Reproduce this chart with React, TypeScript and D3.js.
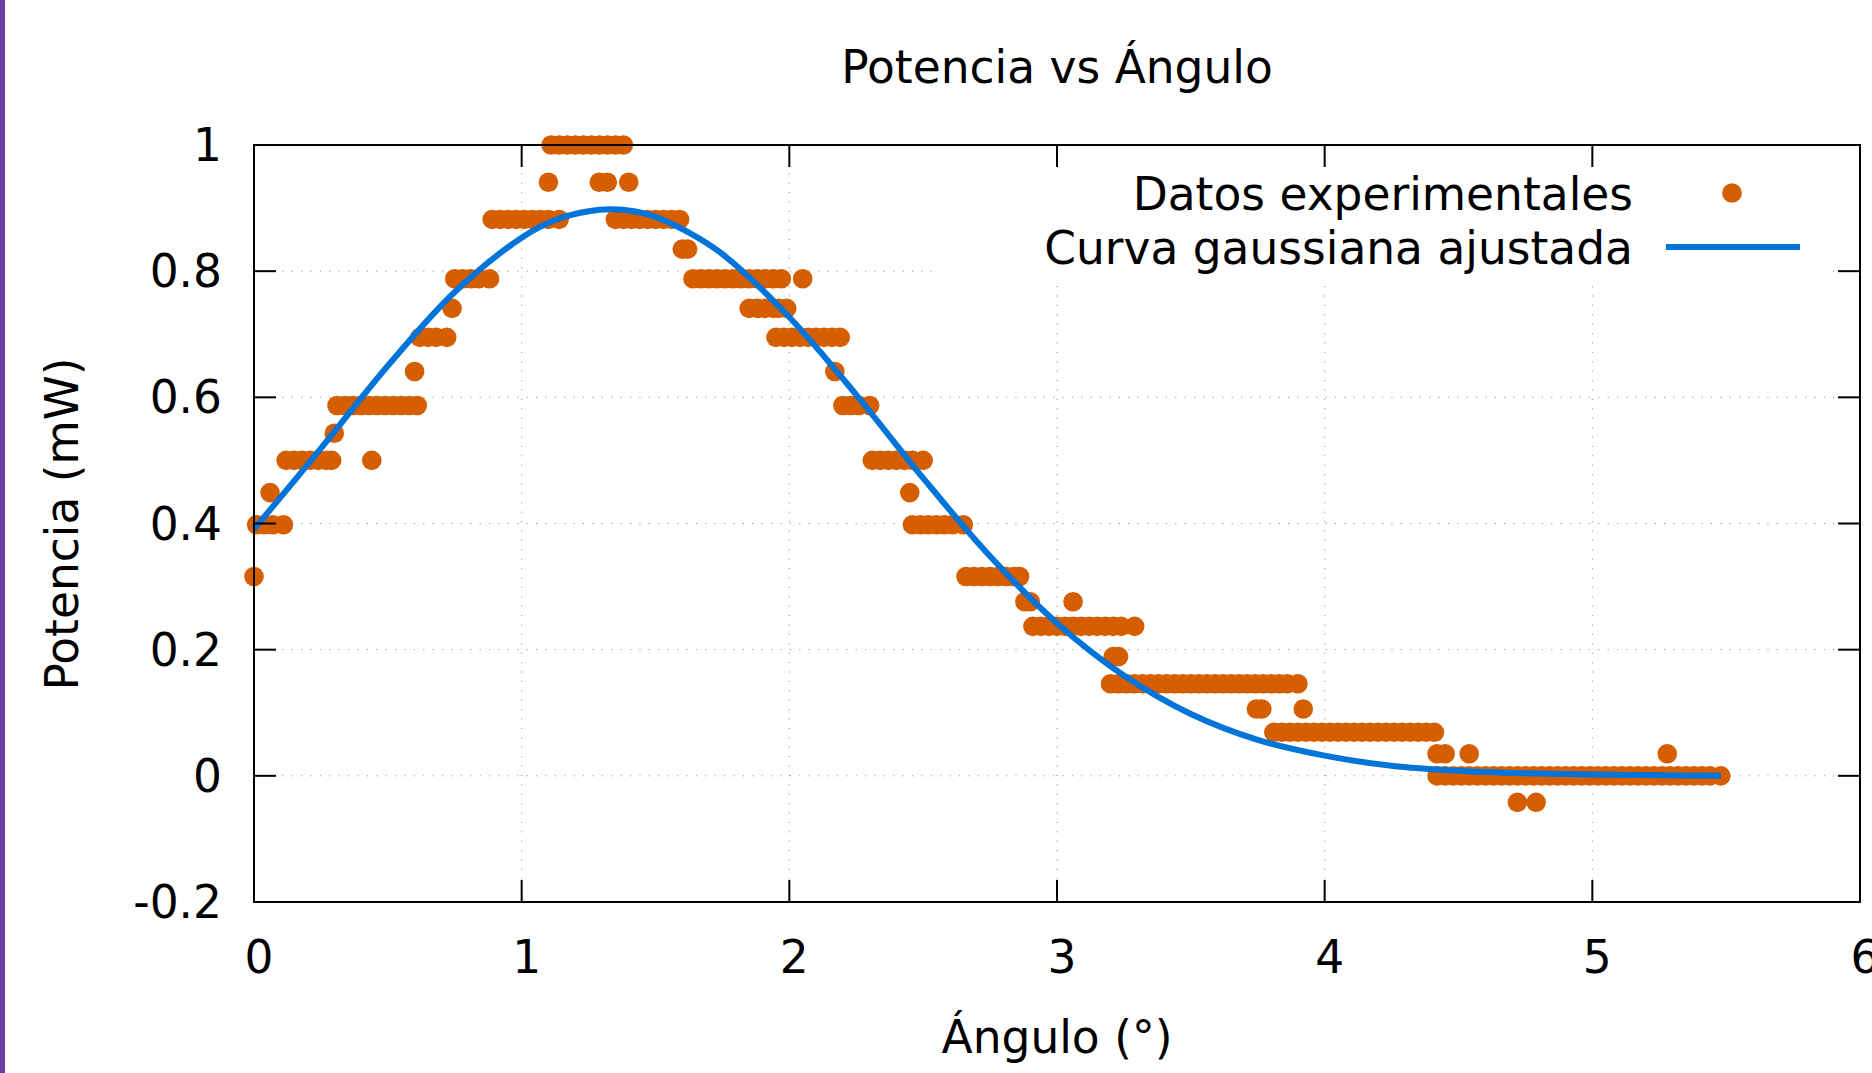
import React from "react";
import * as d3 from "d3";

// Niveles de potencia normalizada (mW)
const nivelesPotencia = [
  1.0, 0.941, 0.882, 0.835, 0.788, 0.741, 0.695, 0.641, 0.587, 0.543, 0.5,
  0.449, 0.398, 0.316, 0.276, 0.237, 0.189, 0.146, 0.106, 0.069, 0.035, 0,
  -0.042,
];

// Ángulos (°) medidos en cada nivel de potencia
const angulosPorNivel = [
  [1.11, 1.14, 1.17, 1.2, 1.23, 1.26, 1.29, 1.32, 1.35, 1.38],
  [1.1, 1.29, 1.32, 1.4],
  [0.89, 0.92, 0.95, 0.98, 1.01, 1.04, 1.07, 1.1, 1.14, 1.35, 1.38, 1.41, 1.44, 1.47, 1.5, 1.53, 1.56, 1.59],
  [1.6, 1.62],
  [0.75, 0.78, 0.81, 0.84, 0.88, 1.64, 1.67, 1.7, 1.73, 1.76, 1.79, 1.82, 1.85, 1.88, 1.91, 1.94, 1.97, 2.05],
  [0.74, 1.85, 1.88, 1.91, 1.94, 1.96, 1.99],
  [0.62, 0.65, 0.68, 0.72, 1.95, 1.98, 2.01, 2.04, 2.07, 2.1, 2.13, 2.16, 2.19],
  [0.6, 2.17],
  [0.31, 0.34, 0.37, 0.4, 0.43, 0.46, 0.49, 0.52, 0.55, 0.58, 0.61, 2.2, 2.23, 2.26, 2.3],
  [0.3],
  [0.12, 0.15, 0.18, 0.21, 0.24, 0.27, 0.29, 0.44, 2.31, 2.34, 2.37, 2.4, 2.43, 2.46, 2.5],
  [0.06, 2.45],
  [0.01, 0.04, 0.07, 0.11, 2.46, 2.49, 2.52, 2.55, 2.58, 2.61, 2.65],
  [0.0, 2.66, 2.69, 2.72, 2.75, 2.78, 2.81, 2.84, 2.86],
  [2.88, 2.9, 3.06],
  [2.91, 2.94, 2.97, 3.0, 3.03, 3.06, 3.09, 3.12, 3.15, 3.18, 3.21, 3.24, 3.29],
  [3.21, 3.23],
  [3.2, 3.23, 3.26, 3.29, 3.32, 3.35, 3.38, 3.41, 3.44, 3.47, 3.5, 3.53, 3.56, 3.59, 3.62, 3.65, 3.68, 3.71, 3.74, 3.77, 3.8, 3.83, 3.86, 3.9],
  [3.745, 3.765, 3.92],
  [3.81, 3.84, 3.87, 3.9, 3.93, 3.96, 3.99, 4.02, 4.05, 4.08, 4.11, 4.14, 4.17, 4.2, 4.23, 4.26, 4.29, 4.32, 4.35, 4.38, 4.41],
  [4.42, 4.45, 4.54, 5.28],
  [4.42, 4.45, 4.48, 4.51, 4.54, 4.57, 4.6, 4.63, 4.66, 4.69, 4.72, 4.75, 4.78, 4.81, 4.84, 4.87, 4.9, 4.93, 4.96, 4.99, 5.02, 5.05, 5.08, 5.11, 5.14, 5.17, 5.2, 5.23, 5.26, 5.29, 5.32, 5.35, 5.38, 5.41, 5.44, 5.48],
  [4.72, 4.79],
];

// Curva gaussiana ajustada
const curvaAngulo = [0, 0.25, 0.5, 0.75, 1, 1.125, 1.25, 1.33, 1.42, 1.5, 1.625, 1.75, 2, 2.25, 2.5, 2.75, 3, 3.25, 3.5, 3.75, 4, 4.25, 4.5, 4.75, 5, 5.25, 5.48];
const curvaPotencia = [0.391, 0.519, 0.65, 0.767, 0.853, 0.881, 0.895, 0.898, 0.895, 0.886, 0.861, 0.827, 0.727, 0.604, 0.472, 0.348, 0.242, 0.159, 0.098, 0.057, 0.032, 0.016, 0.008, 0.004, 0.002, 0.001, 0.0];

const xTicks = [0, 1, 2, 3, 4, 5, 6];
const yTicks = [-0.2, 0, 0.2, 0.4, 0.6, 0.8, 1];

const W = 1872;
const H = 1073;
const left = 254;
const right = 1860;
const top = 145;
const bottom = 902;
const font = "DejaVu Sans";
const fs = 45.5;
const orange = "#d55e00";
const blue = "#0074d9";

export default function App() {
  const x = d3.scaleLinear().domain([0, 6]).range([left, right]);
  const y = d3.scaleLinear().domain([-0.2, 1]).range([bottom, top]);

  const puntos: [number, number][] = [];
  angulosPorNivel.forEach((angs, i) => {
    angs.forEach((a) => puntos.push([a, nivelesPotencia[i]]));
  });

  const curva = curvaAngulo.map((a, i) => [a, curvaPotencia[i]] as [number, number]);
  const linea = d3
    .line<[number, number]>()
    .x((d) => x(d[0]))
    .y((d) => y(d[1]))
    .curve(d3.curveCatmullRom.alpha(0.5));

  const tick = 22;

  return (
    <svg
      width={W}
      height={H}
      style={{ position: "absolute", left: 0, top: 0, background: "#fff" }}
      fontFamily={font}
    >
      <rect x={0} y={0} width={W} height={H} fill="#fff" />
      <rect x={0} y={0} width={5} height={H} fill="#6b3fa0" />

      {/* grid */}
      <g stroke="#909090" strokeWidth={1} strokeDasharray="1.2,8.2">
        {xTicks.slice(1, -1).map((t) => (
          <line key={"gx" + t} x1={x(t)} x2={x(t)} y1={top} y2={bottom} />
        ))}
        {yTicks.slice(1, -1).map((t) => (
          <line key={"gy" + t} x1={left} x2={right} y1={y(t)} y2={y(t)} />
        ))}
      </g>

      {/* datos */}
      <g fill={orange}>
        {puntos.map((d, i) => (
          <circle key={i} cx={x(d[0])} cy={y(d[1])} r={9.8} />
        ))}
      </g>

      <path d={linea(curva) || ""} fill="none" stroke={blue} strokeWidth={6} />

      {/* leyenda */}
      <rect x={933} y={168} width={897} height={110} fill="#fff" />
      <g fontSize={fs} textAnchor="end" fill="#000">
        <text x={1633} y={210}>Datos experimentales</text>
        <text x={1633} y={264}>Curva gaussiana ajustada</text>
      </g>
      <circle cx={1732} cy={193} r={9.8} fill={orange} />
      <line x1={1666} x2={1800} y1={247} y2={247} stroke={blue} strokeWidth={6} />

      {/* ticks */}
      <g stroke="#000" strokeWidth={2}>
        {yTicks.map((t) => (
          <g key={"ty" + t}>
            <line x1={left} x2={left + tick} y1={y(t)} y2={y(t)} />
            <line x1={right - tick} x2={right} y1={y(t)} y2={y(t)} />
          </g>
        ))}
        {xTicks.map((t) => (
          <g key={"tx" + t}>
            <line x1={x(t)} x2={x(t)} y1={bottom} y2={bottom - tick} />
            <line x1={x(t)} x2={x(t)} y1={top} y2={top + tick} />
          </g>
        ))}
      </g>
      <rect x={left} y={top} width={right - left} height={bottom - top} fill="none" stroke="#000" strokeWidth={2} />

      {/* etiquetas */}
      <g fontSize={fs} fill="#000">
        {yTicks.map((t) => (
          <text key={"ly" + t} x={222} y={y(t) + 16} textAnchor="end">
            {String(t)}
          </text>
        ))}
        {xTicks.map((t) => (
          <text key={"lx" + t} x={x(t) + 5} y={973} textAnchor="middle">
            {t}
          </text>
        ))}
        <text x={1057} y={83} textAnchor="middle">Potencia vs Ángulo</text>
        <text x={1057} y={1053} textAnchor="middle">Ángulo (°)</text>
        <text transform="translate(78,524) rotate(-90)" textAnchor="middle">Potencia (mW)</text>
      </g>
    </svg>
  );
}
